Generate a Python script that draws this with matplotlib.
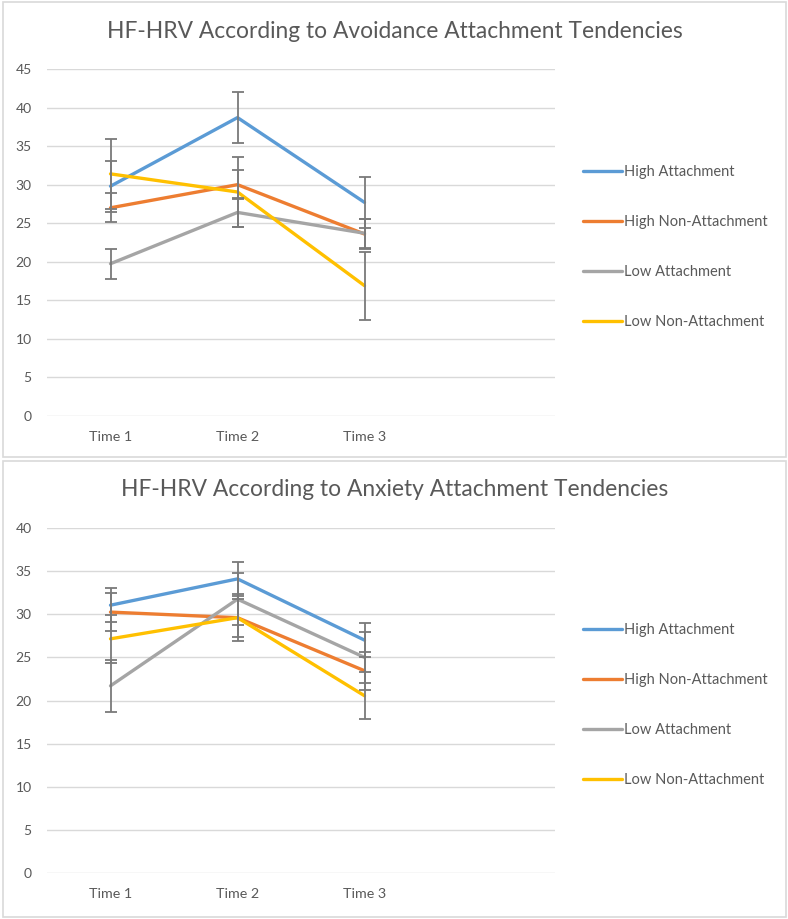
import matplotlib
matplotlib.use("Agg")
import matplotlib.pyplot as plt
from matplotlib.patches import Rectangle

plt.rcParams['font.family'] = ['Lato', 'DejaVu Sans']

times = ["Time 1", "Time 2", "Time 3"]
series_names = ["High Attachment", "High Non-Attachment", "Low Attachment", "Low Non-Attachment"]
colors = ["#5B9BD5", "#ED7D31", "#A5A5A5", "#FFC000"]

# Avoidance chart
avoid_title = "HF-HRV According to Avoidance Attachment Tendencies"
avoid_high_att = [29.8, 38.7, 27.7]
avoid_high_non = [27.0, 30.0, 23.6]
avoid_low_att = [19.75, 26.4, 23.7]
avoid_low_non = [31.4, 29.05, 16.9]
avoid_err_high_att = [3.3, 3.3, 3.35]
avoid_err_high_non = [1.9, 1.85, 1.9]
avoid_err_low_att = [1.95, 1.85, 1.9]
avoid_err_low_non = [4.5, 4.5, 4.4]
avoid_yticks = [0, 5, 10, 15, 20, 25, 30, 35, 40, 45]

# Anxiety chart
anx_title = "HF-HRV According to Anxiety Attachment Tendencies"
anx_high_att = [31.05, 34.1, 27.0]
anx_high_non = [30.25, 29.6, 23.45]
anx_low_att = [21.7, 31.75, 25.0]
anx_low_non = [27.15, 29.6, 20.55]
anx_err_high_att = [2.0, 2.0, 2.0]
anx_err_high_non = [2.2, 2.2, 2.2]
anx_err_low_att = [3.0, 3.0, 3.0]
anx_err_low_non = [2.75, 2.75, 2.75]
anx_yticks = [0, 5, 10, 15, 20, 25, 30, 35, 40]

W, H = 788, 919
fig = plt.figure(figsize=(W / 100, H / 100), dpi=100)
fig.patch.set_facecolor("white")

text_col = "#595959"
grid_col = "#D9D9D9"


def fx(px):
    return px / W


def fy(py):
    return 1 - py / H


# panel borders
for (y0, y1) in [(1.5, 456.5), (460.5, 916.5)]:
    fig.patches.append(Rectangle((fx(2.5), fy(y1)), fx(783), (y1 - y0) / H,
                                 transform=fig.transFigure, fill=False,
                                 edgecolor="#D9D9D9", linewidth=1.2, zorder=0))


def draw(ax_rect, title, title_y, data, errs, yticks, leg_center_y):
    ax = fig.add_axes(ax_rect)
    x = list(range(len(times)))
    handles = []
    for vals, col, name in zip(data, colors, series_names):
        h, = ax.plot(x, vals, color=col, linewidth=2.4, solid_capstyle='round',
                     solid_joinstyle='round', label=name, zorder=3)
        handles.append(h)
    for vals, e in zip(data, errs):
        ax.errorbar(x, vals, yerr=e, fmt='none', ecolor="#7A7A7A",
                    elinewidth=1.3, capsize=4, capthick=1.3, zorder=4)
    ax.set_xlim(-0.5, 3.5)
    ax.set_ylim(yticks[0], yticks[-1])
    ax.set_yticks(yticks)
    ax.set_xticks(x)
    ax.set_xticklabels(times)
    for s in ax.spines.values():
        s.set_visible(False)
    ax.grid(axis='y', color=grid_col, linewidth=1.0, zorder=0)
    ax.set_axisbelow(True)
    ax.tick_params(axis='both', length=0, labelsize=10, labelcolor=text_col)
    ax.tick_params(axis='x', labelsize=10.3)
    ax.tick_params(axis='y', pad=11)
    ax.tick_params(axis='x', pad=11)
    fig.text(fx(395), fy(title_y), title, ha='center', va='center',
             fontsize=16.4, color=text_col)
    leg = ax.legend(handles=handles, loc='center left',
                    bbox_to_anchor=(fx(583), fy(leg_center_y)),
                    bbox_transform=fig.transFigure, frameon=False,
                    fontsize=10.5, labelspacing=2.46, handlelength=2.7,
                    handletextpad=0.12, borderpad=0, borderaxespad=0)
    for t in leg.get_texts():
        t.set_color(text_col)
    for lh in leg.get_lines():
        lh.set_linewidth(2.4)
    return ax


draw([fx(47), fy(416), fx(508), 347 / H], avoid_title, 32,
     [avoid_high_att, avoid_high_non, avoid_low_att, avoid_low_non],
     [avoid_err_high_att, avoid_err_high_non, avoid_err_low_att, avoid_err_low_non],
     avoid_yticks, 247)

draw([fx(47), fy(873), fx(508), 345 / H], anx_title, 490,
     [anx_high_att, anx_high_non, anx_low_att, anx_low_non],
     [anx_err_high_att, anx_err_high_non, anx_err_low_att, anx_err_low_non],
     anx_yticks, 705)

fig.savefig("out.png", dpi=100, facecolor="white")
